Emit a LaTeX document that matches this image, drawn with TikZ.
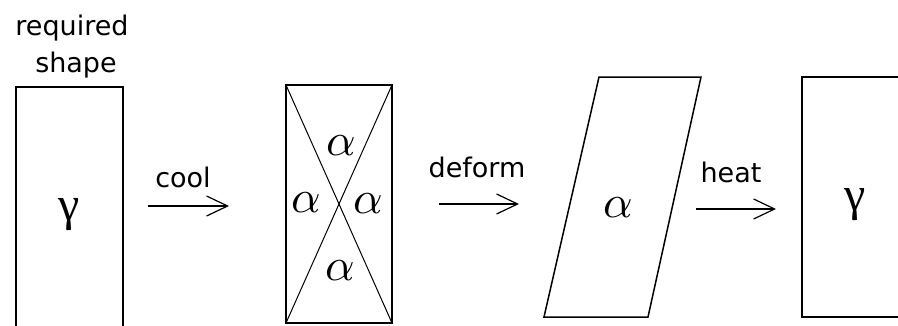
\documentclass[tikz,border=0pt]{standalone}
\usepackage{graphicx}
\usepackage{fontspec}
\setmainfont{DejaVu Sans}
\newfontfamily\greekfont{Liberation Serif}
\usetikzlibrary{arrows.meta}
\newcommand{\bigalf}{\scalebox{4.6}{$\alpha$}}
\begin{document}
\begin{tikzpicture}[x=1pt,y=-1pt,
  lbl/.style={font=\fontsize{27}{30}\selectfont, inner sep=0pt, anchor=base},
  grk/.style={font=\greekfont\fontsize{48}{50}\selectfont, inner sep=0pt, anchor=base},
  alf/.style={inner sep=0pt, anchor=base},
  shapeline/.style={line width=1.5pt, line join=miter},
  thinline/.style={line width=1pt},
  arr/.style={line width=1.2pt, -{Straight Barb[length=21pt,width=20pt,line width=1.2pt]}}]
\useasboundingbox (0,0) rectangle (898,325);
\clip (0,0) rectangle (898,325);
% labels
\node[lbl] (req) at (72,35) {required};
\node[lbl] (shp) at (76,72) {shape};
% box 1
\coordinate (b1tl) at (16,87);
\coordinate (b1br) at (123,345);
\draw[shapeline] (b1tl) rectangle (b1br);
\node[grk] (g1) at (69,220) {γ};
% arrow cool
\coordinate (c1) at (148,206);
\coordinate (c2) at (229,206);
\draw[arr] (c1) -- (c2);
\node[lbl] (cool) at (183,187) {cool};
% box 2
\coordinate (b2tl) at (286,85);
\coordinate (b2tr) at (392,85);
\coordinate (b2br) at (392,323);
\coordinate (b2bl) at (286,323);
\draw[shapeline] (b2tl) rectangle (b2br);
\draw[thinline] (b2tl) -- (b2br);
\draw[thinline] (b2tr) -- (b2bl);
\node[alf] (a1) at (341,155) {\bigalf};
\node[alf] (a2) at (306,212) {\bigalf};
\node[alf] (a3) at (368,213) {\bigalf};
\node[alf] (a4) at (340,280) {\bigalf};
% arrow deform
\coordinate (d1) at (439,204);
\coordinate (d2) at (519,204);
\draw[arr] (d1) -- (d2);
\node[lbl] (deform) at (477,177) {deform};
% parallelogram
\coordinate (p1) at (599,77);
\coordinate (p2) at (701,77);
\coordinate (p3) at (648,317);
\coordinate (p4) at (544,317);
\draw[shapeline] (p1) -- (p2) -- (p3) -- (p4) -- cycle;
\node[alf] (a5) at (618,217) {\bigalf};
% arrow heat
\coordinate (h1) at (696,209);
\coordinate (h2) at (776,209);
\draw[arr] (h1) -- (h2);
\node[lbl] (heat) at (731,182) {heat};
% box 4
\coordinate (b4tl) at (802,77);
\coordinate (b4br) at (915,317);
\draw[shapeline] (b4tl) rectangle (b4br);
\node[grk] (g2) at (855,210) {γ};
\end{tikzpicture}
\end{document}
